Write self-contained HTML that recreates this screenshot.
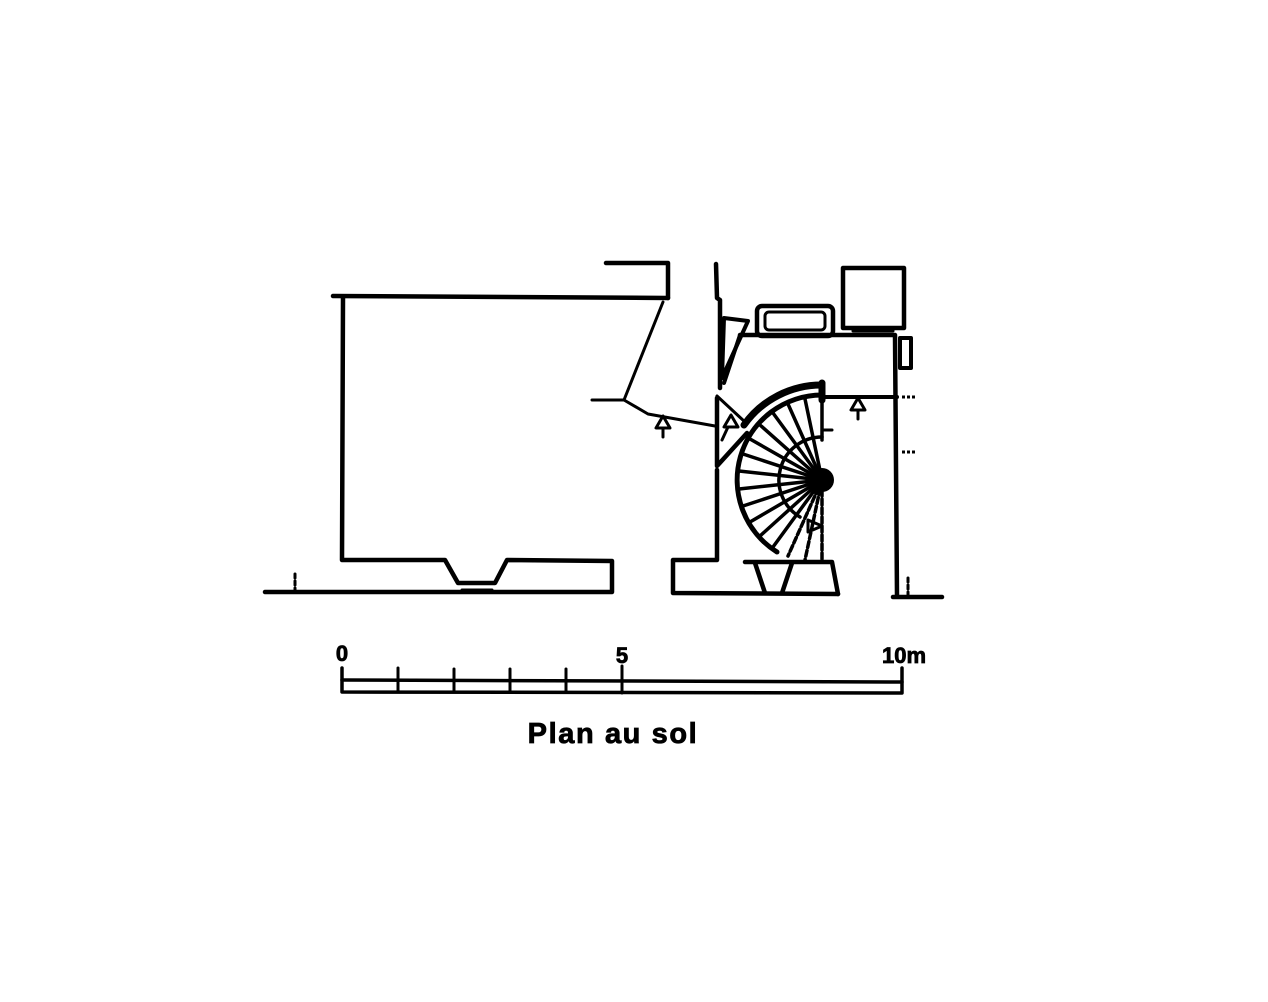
<!DOCTYPE html>
<html><head><meta charset="utf-8"><style>
html,body{margin:0;padding:0;background:#fff;}
svg{display:block}
</style></head><body>
<svg width="1268" height="1002" viewBox="0 0 1268 1002" xmlns="http://www.w3.org/2000/svg">
<g fill="none" stroke="#000" stroke-width="4.5" stroke-linejoin="round" stroke-linecap="round">
<!-- left room -->
<polyline points="333,296 668,298"/>
<polyline points="343,297 342,560 445,560 458,583 495,583 507,560 612,561 612,592 265,592"/>
<polyline points="462,590 492,590" stroke-width="3"/>
<line x1="295" y1="574" x2="295" y2="590" stroke-width="3" stroke-dasharray="4,3"/>
<!-- top block -->
<polyline points="606,263 668,263 668,298"/>
<polyline points="663,302 624,400 592,400" stroke-width="3"/>
<polyline points="624,400 648,414 715,426" stroke-width="3"/>
<!-- central wall -->
<polyline points="716,264 717,298 720,300 720,388"/>
<polyline points="717,398 717,466 747,433"/>
<polyline points="717,470 717,560 673,560 673,593 838,594"/>
<line x1="717" y1="396" x2="745" y2="422" stroke-width="3"/>
<!-- wedge -->
<polygon points="724,318 748,321 722,378" stroke-width="4"/>
<line x1="740" y1="335" x2="724" y2="383" stroke-width="4"/>
<!-- right building -->
<polyline points="740,335 895,335 897,596"/>
<polyline points="893,597 942,597"/>
<rect x="900" y="338" width="11" height="30" stroke-width="4"/>
<line x1="908" y1="578" x2="908" y2="596" stroke-width="3" stroke-dasharray="4,3"/>
<rect x="757" y="306" width="76" height="30" rx="5"/>
<rect x="765" y="312" width="60" height="18" rx="4" stroke-width="3"/>
<rect x="843" y="268" width="61" height="60"/>
<rect x="853" y="328" width="40" height="3" stroke-width="3"/>
<line x1="822" y1="397" x2="897" y2="397" stroke-width="4"/>
<line x1="902" y1="397" x2="916" y2="397" stroke-width="3" stroke-dasharray="3,2" stroke-linecap="butt"/>
<line x1="902" y1="452" x2="916" y2="452" stroke-width="3" stroke-dasharray="3,2" stroke-linecap="butt"/>
<!-- stair -->
<path d="M822,385 A95,95 0 0 0 744,425" stroke-width="7"/>
<path d="M822,395 A85,85 0 0 0 777,552" stroke-width="5"/>
<path d="M822,437 A43,43 0 0 0 800,517" stroke-width="3.5"/>
<line x1="822" y1="383" x2="822" y2="400" stroke-width="7"/>
<line x1="822" y1="400" x2="822" y2="440" stroke-width="3.5"/>
<line x1="822" y1="430" x2="832" y2="430" stroke-width="3"/>
<g stroke-width="3.5">
<line x1="822" y1="480" x2="805" y2="399"/>
<line x1="822" y1="480" x2="788" y2="404"/>
<line x1="822" y1="480" x2="773" y2="413"/>
<line x1="822" y1="480" x2="760" y2="425"/>
<line x1="822" y1="480" x2="750" y2="439"/>
<line x1="822" y1="480" x2="743" y2="454"/>
<line x1="822" y1="480" x2="739" y2="471"/>
<line x1="822" y1="480" x2="739" y2="489"/>
<line x1="822" y1="480" x2="743" y2="506"/>
<line x1="822" y1="480" x2="750" y2="522"/>
<line x1="822" y1="480" x2="760" y2="536"/>
<line x1="822" y1="480" x2="773" y2="547"/>
</g>
<g stroke-width="3.5" stroke-dasharray="6,3">
<line x1="822" y1="480" x2="788" y2="556"/>
<line x1="822" y1="480" x2="805" y2="560"/>
<line x1="822" y1="490" x2="822" y2="560"/>
</g>
<polygon points="808,520 822,526 808,532" stroke-width="3"/>
<!-- basin -->
<polyline points="745,562 832,562 838,594"/>
<line x1="755" y1="563" x2="765" y2="593"/>
<line x1="792" y1="563" x2="782" y2="593"/>
<!-- arrows -->
<g stroke-width="3">
<polygon points="663,416 656,428 670,428"/><line x1="663" y1="428" x2="663" y2="437"/>
<polygon points="858,398 851,410 865,410"/><line x1="858" y1="410" x2="858" y2="419"/>
<polygon points="731,415 724,427 738,427"/><line x1="728" y1="427" x2="722" y2="440"/>
</g>
<!-- scale bar -->
<polyline points="342,668 342,692 902,693 902,668" stroke-width="3.5"/>
<line x1="342" y1="680" x2="902" y2="682" stroke-width="3.5"/>
<g stroke-width="3">
<line x1="398" y1="668" x2="398" y2="692"/>
<line x1="454" y1="669" x2="454" y2="692"/>
<line x1="510" y1="669" x2="510" y2="692"/>
<line x1="566" y1="669" x2="566" y2="692"/>
<line x1="622" y1="666" x2="622" y2="693"/>
</g>
</g>
<circle cx="822" cy="480" r="12" fill="#000"/>
<g font-family="Liberation Sans, sans-serif" font-weight="bold" fill="#000" stroke="#000" stroke-width="0.8">
<text x="342" y="661" font-size="22" text-anchor="middle">0</text>
<text x="622" y="663" font-size="22" text-anchor="middle">5</text>
<text x="882" y="663" font-size="22">10m</text>
<text x="613" y="743" font-size="29" text-anchor="middle" letter-spacing="1.6">Plan au sol</text>
</g>
</svg>
</body></html>
